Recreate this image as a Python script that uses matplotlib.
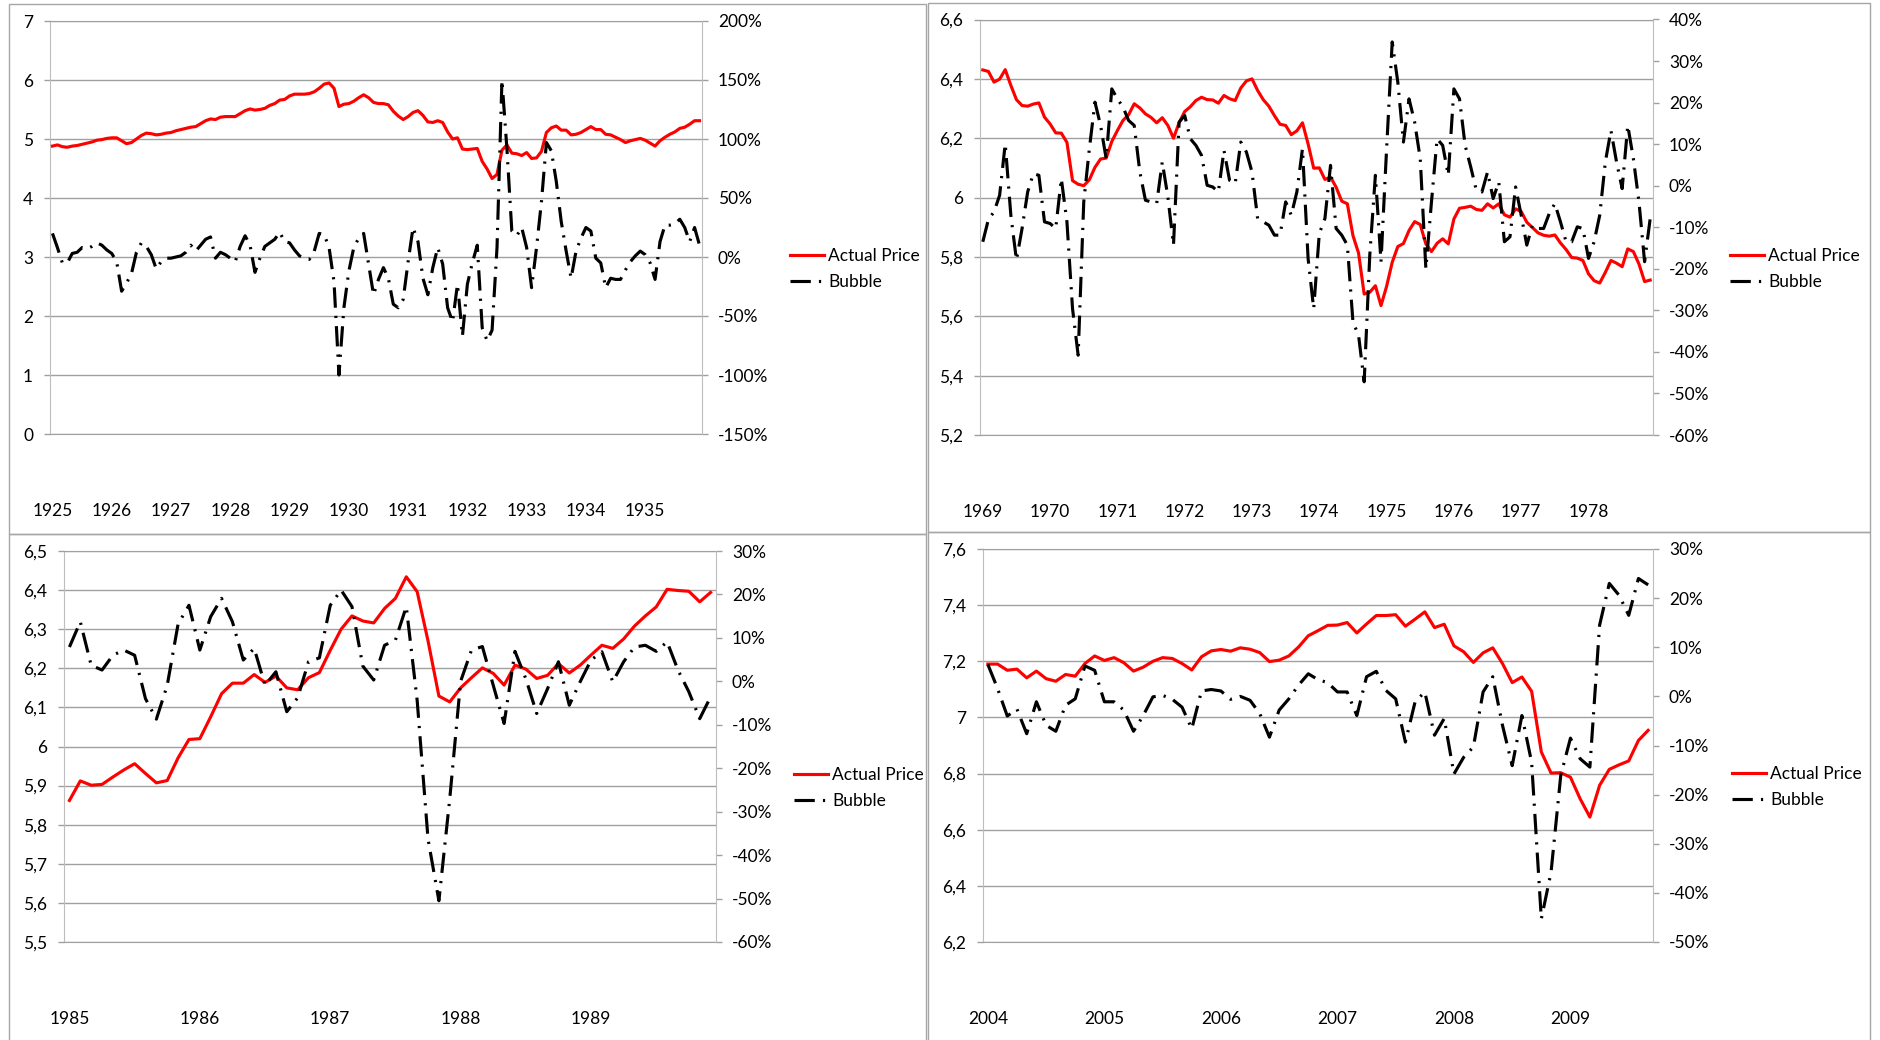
import matplotlib.pyplot as plt
from matplotlib.patches import Rectangle
from matplotlib.ticker import FuncFormatter

W, H = 1881, 1040

# 1925-1935, monthly log price and bubble component (%)
price_1920s = [
    4.88, 4.90, 4.87, 4.86, 4.88, 4.89, 4.91, 4.93, 4.95, 4.98, 4.99, 5.01,
    5.02, 5.02, 4.97, 4.92, 4.94, 5.00, 5.06, 5.10, 5.09, 5.07, 5.08, 5.10,
    5.11, 5.14, 5.16, 5.18, 5.20, 5.21, 5.26, 5.31, 5.34, 5.33, 5.37, 5.38,
    5.38, 5.38, 5.43, 5.48, 5.51, 5.49, 5.50, 5.52, 5.57, 5.60, 5.66, 5.67,
    5.73, 5.76, 5.76, 5.76, 5.77, 5.80, 5.86, 5.93, 5.95, 5.86, 5.55, 5.59,
    5.60, 5.64, 5.70, 5.75, 5.70, 5.62, 5.60, 5.60, 5.58, 5.47, 5.39, 5.33,
    5.38, 5.45, 5.48, 5.40, 5.29, 5.28, 5.31, 5.28, 5.12, 5.00, 5.02, 4.83,
    4.82, 4.83, 4.84, 4.62, 4.49, 4.33, 4.40, 4.81, 4.90, 4.76, 4.75, 4.72,
    4.77, 4.67, 4.68, 4.79, 5.11, 5.19, 5.22, 5.15, 5.15, 5.07, 5.08, 5.11,
    5.16, 5.21, 5.16, 5.16, 5.08, 5.07, 5.03, 4.99, 4.94, 4.97, 4.99, 5.01,
    4.98, 4.93, 4.88, 4.97, 5.03, 5.08, 5.12, 5.18, 5.20, 5.25, 5.31, 5.31,
]
bubble_1920s = [
    20, 8, -5, -5, 3, 4, 8, 7, 9, 12, 10, 6,
    3, -4, -29, -22, -14, 4, 12, 9, 2, -10, -4, -1,
    -1, 0, 1, 4, 10, 5, 10, 15, 17, -1, 4, 2,
    -1, -4, 9, 18, 10, -13, -1, 9, 12, 15, 21, 13,
    12, 6, 1, -1, -2, 5, 20, 19, 8, -21, -100, -43,
    -12, 8, 16, 20, -6, -32, -19, -9, -18, -40, -43, -36,
    -4, 25, 13, -18, -32, -9, 8, -6, -43, -55, -23, -67,
    -23, -5, 10, -60, -71, -62, 8, 150, 92, 22, 18, 25,
    8, -26, 8, 47, 97, 90, 64, 30, 5, -18, 5, 16,
    25, 22, -1, -5, -26, -18, -19, -19, -11, -4, 1, 5,
    2, -5, -19, 13, 27, 27, 28, 32, 25, 13, 25, 10,
]
years_1920s = [str(y) for y in range(1925, 1936)]

# 1969-1978
price_1970s = [
    6.430, 6.425, 6.389, 6.399, 6.431, 6.378, 6.330, 6.310, 6.308, 6.315, 6.319, 6.271,
    6.248, 6.218, 6.217, 6.186, 6.057, 6.045, 6.040, 6.060, 6.102, 6.130, 6.133, 6.189,
    6.226, 6.260, 6.279, 6.316, 6.302, 6.282, 6.270, 6.252, 6.269, 6.243, 6.200, 6.252,
    6.290, 6.306, 6.327, 6.338, 6.330, 6.329, 6.318, 6.344, 6.333, 6.327, 6.369, 6.393,
    6.400, 6.361, 6.330, 6.308, 6.276, 6.247, 6.243, 6.212, 6.225, 6.252, 6.181, 6.099,
    6.100, 6.061, 6.069, 6.035, 5.988, 5.979, 5.872, 5.813, 5.675, 5.681, 5.703, 5.636,
    5.701, 5.782, 5.835, 5.845, 5.889, 5.919, 5.909, 5.844, 5.818, 5.846, 5.861, 5.844,
    5.928, 5.964, 5.967, 5.971, 5.960, 5.957, 5.979, 5.965, 5.979, 5.942, 5.934, 5.962,
    5.953, 5.917, 5.899, 5.881, 5.873, 5.870, 5.874, 5.847, 5.825, 5.798, 5.796, 5.788,
    5.743, 5.720, 5.712, 5.748, 5.788, 5.779, 5.767, 5.827, 5.818, 5.776, 5.717, 5.722,
]
bubble_1970s = [
    -13.5, -8.1, -6.3, -2.3, 10.1, -7.1, -17.9, -10.3, -1.5, 2.9, 2.5, -8.7,
    -9.1, -10.3, 1.7, -8.7, -29.6, -40.8, -3.9, 8.9, 20.1, 14.5, 6.5, 23.3,
    20.9, 18.9, 15.7, 14.5, 3.3, -3.5, -3.9, -4.3, 5.7, -2.7, -14.3, 15.3,
    16.9, 11.3, 9.7, 7.3, 0.1, -0.3, -1.5, 8.5, 1.3, 0.5, 10.5, 8.1,
    3.3, -7.9, -8.7, -9.5, -11.9, -11.9, -3.9, -7.1, -1.5, 8.9, -17.5, -29.6,
    -11.5, -7.9, 4.9, -10.3, -11.9, -14.3, -32.8, -36.0, -47.2, -16.7, 2.5, -18.3,
    8.9, 34.6, 24.9, 10.5, 20.9, 15.3, 6.5, -20.0, -3.9, 11.3, 9.7, 2.5,
    23.3, 20.9, 9.7, 4.5, -1.1, -1.5, 3.3, -3.1, 0.9, -13.5, -12.3, -0.3,
    -7.1, -14.3, -9.5, -10.3, -10.3, -6.7, -4.3, -8.7, -13.5, -13.5, -9.9, -10.3,
    -17.5, -13.5, -7.1, 5.7, 13.3, 5.7, -0.7, 14.5, 6.5, -3.9, -18.3, -7.9,
]
years_1970s = [str(y) for y in range(1969, 1979)]

# 1985-1989
price_1980s = [
    5.862, 5.912, 5.901, 5.903, 5.922, 5.940, 5.956, 5.931, 5.907, 5.913, 5.971, 6.018,
    6.020, 6.076, 6.135, 6.162, 6.162, 6.184, 6.164, 6.180, 6.150, 6.145, 6.176, 6.189,
    6.246, 6.300, 6.334, 6.321, 6.316, 6.353, 6.379, 6.434, 6.396, 6.270, 6.129, 6.114,
    6.150, 6.176, 6.201, 6.187, 6.157, 6.208, 6.198, 6.174, 6.182, 6.212, 6.188, 6.208,
    6.234, 6.259, 6.251, 6.275, 6.308, 6.334, 6.357, 6.402, 6.399, 6.397, 6.370, 6.394,
]
bubble_1980s = [
    7.9, 13.7, 3.7, 2.6, 6.0, 7.2, 6.0, -4.0, -8.7, -0.9, 13.2, 17.5,
    7.2, 14.9, 19.1, 13.7, 4.9, 7.6, -0.9, 2.2, -7.0, -3.8, 4.5, 5.4,
    17.5, 21.0, 17.2, 3.5, 0.3, 8.3, 9.5, 17.2, -4.4, -36.3, -50.5, -27.0,
    0.0, 7.2, 8.0, -0.9, -9.7, 6.9, 0.6, -7.4, -1.7, 4.5, -5.5, -0.1,
    4.9, 6.8, -0.1, 4.5, 7.9, 8.3, 6.9, 9.1, 2.6, -2.4, -8.6, -3.6,
]
years_1980s = [str(y) for y in range(1985, 1990)]

# 2004-2009 (to September)
price_2000s = [
    7.190, 7.190, 7.168, 7.172, 7.141, 7.165, 7.138, 7.129, 7.153, 7.147, 7.192, 7.219,
    7.203, 7.213, 7.195, 7.165, 7.179, 7.200, 7.213, 7.210, 7.192, 7.169, 7.216, 7.237,
    7.242, 7.236, 7.248, 7.243, 7.231, 7.199, 7.204, 7.219, 7.251, 7.291, 7.309, 7.328,
    7.329, 7.338, 7.301, 7.333, 7.363, 7.363, 7.366, 7.325, 7.350, 7.376, 7.320, 7.332,
    7.255, 7.234, 7.196, 7.230, 7.248, 7.192, 7.124, 7.144, 7.093, 6.877, 6.802, 6.803,
    6.787, 6.710, 6.645, 6.758, 6.815, 6.831, 6.845, 6.918, 6.954,
]
bubble_2000s = [
    6.5, 1.6, -4.0, -2.6, -7.6, -1.1, -5.9, -7.1, -1.8, -0.5, 6.2, 5.3,
    -1.1, -1.1, -2.8, -7.1, -3.9, -0.1, 0.2, -0.6, -2.2, -6.6, 1.1, 1.4,
    1.1, -0.6, 0.0, -0.8, -3.5, -8.3, -2.8, -0.5, 2.3, 4.6, 3.4, 2.8,
    0.9, 0.9, -3.9, 4.0, 5.1, 1.2, -0.5, -9.3, -1.1, 0.9, -7.9, -4.5,
    -15.8, -12.4, -10.3, 0.9, 4.0, -5.9, -14.1, -3.9, -13.4, -45.3, -35.8, -16.1,
    -8.5, -12.7, -14.4, 14.5, 23.0, 20.6, 16.5, 24.0, 22.7,
]
years_2000s = [str(y) for y in range(2004, 2010)]

RED = "#ff0000"
GRID = "#a0a0a0"
SPINE = "#bdbdbd"
BORDER = "#a6a6a6"
FONT = "Lato"
FS = 12.5
# long dash - dot, with the wide gaps Excel leaves around the dot
BUBBLE_DASH = (0, (6.5, 2.6, 0.7, 2.6))

plt.rcParams["font.family"] = FONT


def px_rect(left, top, right, bottom):
    return [left / W, 1 - bottom / H, (right - left) / W, (bottom - top) / H]


def comma_fmt(v, _pos):
    return f"{round(v, 2):g}".replace(".", ",")


def pct_fmt(v, _pos):
    return f"{v:.0f}%"


def draw_panel(fig, box, price, bubble, years, left_ticks, right_ticks, legend_xy):
    ax = fig.add_axes(px_rect(*box))
    x = list(range(len(price)))
    red, = ax.plot(x, price, color=RED, lw=2.25, label="Actual Price", zorder=3)
    ax.set_xlim(-0.5, len(price) - 0.5)
    ax.set_ylim(left_ticks[0], left_ticks[-1])
    ax.set_yticks(left_ticks)
    ax.yaxis.set_major_formatter(FuncFormatter(comma_fmt))
    ax.grid(axis="y", color=GRID, lw=1.0)
    ax.set_axisbelow(True)
    ax.set_xticks(range(0, 12 * len(years), 12))
    ax.set_xticklabels(years)
    ax.tick_params(axis="x", length=0, pad=50, labelsize=FS)
    ax.tick_params(axis="y", length=4.3, width=1, color=GRID, pad=7.9, labelsize=FS)
    for side in ("top", "bottom"):
        ax.spines[side].set_color(GRID)
    ax.spines["left"].set_color(SPINE)
    ax.spines["right"].set_visible(False)

    ax2 = ax.twinx()
    blk, = ax2.plot(x, bubble, color="black", lw=2.25, linestyle=BUBBLE_DASH, label="Bubble")
    ax2.set_ylim(right_ticks[0], right_ticks[-1])
    ax2.set_yticks(right_ticks)
    ax2.yaxis.set_major_formatter(FuncFormatter(pct_fmt))
    ax2.tick_params(axis="y", length=4.3, width=1, color=GRID, pad=7.2, labelsize=FS)
    for side in ("top", "bottom", "left"):
        ax2.spines[side].set_visible(False)
    ax2.spines["right"].set_color(SPINE)

    fig.legend(
        handles=[red, blk],
        loc="center left",
        bbox_to_anchor=(legend_xy[0] / W, 1 - legend_xy[1] / H),
        frameon=False,
        fontsize=FS,
        handlelength=1.95,
        handletextpad=0.25,
        labelspacing=0.55,
        borderpad=0,
        borderaxespad=0,
    )


fig = plt.figure(figsize=(W / 100, H / 100), dpi=100)
fig.patch.set_facecolor("white")

# chart frames, as in the spreadsheet
for left, top, right, bottom in [(9, 4, 926, 534), (928, 3, 1870, 532),
                                  (9, 534, 926, 1045), (928, 532, 1870, 1045)]:
    fig.add_artist(Rectangle((left / W, 1 - bottom / H), (right - left) / W, (bottom - top) / H,
                             transform=fig.transFigure, fill=False, edgecolor=BORDER, lw=1.0))

draw_panel(fig, (50, 21, 702, 434), price_1920s, bubble_1920s, years_1920s,
           [0, 1, 2, 3, 4, 5, 6, 7], list(range(-150, 201, 50)), (790, 269))
draw_panel(fig, (980, 19.5, 1653, 435), price_1970s, bubble_1970s, years_1970s,
           [5.2, 5.4, 5.6, 5.8, 6.0, 6.2, 6.4, 6.6], list(range(-60, 41, 10)), (1730, 269))
draw_panel(fig, (64, 551, 716, 942), price_1980s, bubble_1980s, years_1980s,
           [5.5, 5.6, 5.7, 5.8, 5.9, 6.0, 6.1, 6.2, 6.3, 6.4, 6.5], list(range(-60, 31, 10)), (794, 788))
draw_panel(fig, (983, 549, 1653, 942), price_2000s, bubble_2000s, years_2000s,
           [6.2, 6.4, 6.6, 6.8, 7.0, 7.2, 7.4, 7.6], list(range(-50, 31, 10)), (1732, 787))

fig.savefig("out.png", dpi=100, facecolor="white")
